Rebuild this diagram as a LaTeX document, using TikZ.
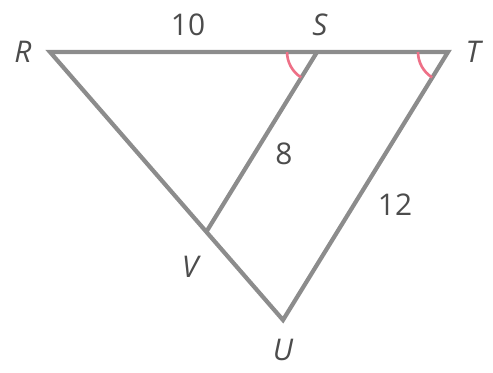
\documentclass[tikz,border=0pt]{standalone}
\usepackage{fontspec}
\setmainfont{Open Sans}
\usetikzlibrary{calc}
\definecolor{anglepink}{RGB}{238,112,135}

\begin{document}
\begin{tikzpicture}[
  x=0.02cm, y=0.02cm,
  font=\fontsize{17}{20}\selectfont,
  seg/.style={draw=black!45, line width=2.4pt, line join=miter},
  ang/.style={draw=anglepink, line width=1.5pt},
  lab/.style={text=black!70, inner sep=1pt},
  pt/.style={lab, font=\fontsize{17}{20}\selectfont\itshape},
]
\useasboundingbox (0,0) rectangle (493,372);

\coordinate (R) at (50,320);
\coordinate (T) at (448,320);
\coordinate (U) at (283,52);
\coordinate (S) at ($(R)!0.671!(T)$);
\coordinate (V) at ($(R)!0.671!(U)$);

% triangle and parallel segment
\draw[seg] (R) -- (T) -- (U) -- cycle;
\draw[seg] (S) -- (V);

% congruent angles
\draw[ang] ([shift={(180:0.6cm)}]S) arc[start angle=180, end angle=238, radius=0.6cm];
\draw[ang] ([shift={(180:0.6cm)}]T) arc[start angle=180, end angle=238, radius=0.6cm];

% vertex names
\node[pt] (lR) at (23,320) {R};
\node[pt] (lS) at (320,347) {S};
\node[pt] (lT) at (473,320) {T};
\node[pt] (lV) at (190,105) {V};
\node[pt] (lU) at (283,22) {U};

% lengths
\node[lab] (l10) at (188,347) {10};
\node[lab] (l8) at (284,218) {8};
\node[lab] (l12) at (395,167) {12};
\end{tikzpicture}
\end{document}
